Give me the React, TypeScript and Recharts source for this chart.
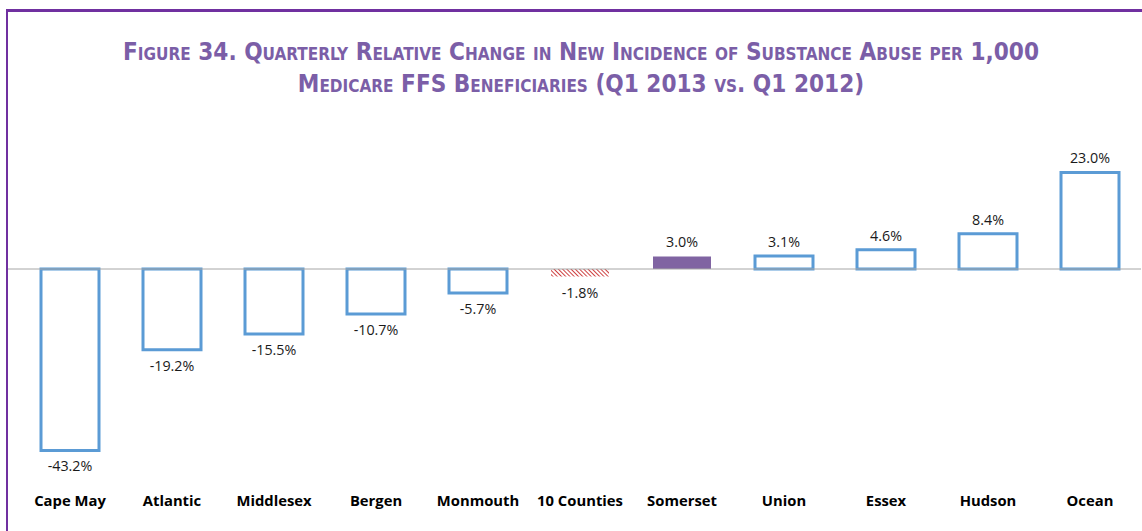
import React from 'react';
import { BarChart, Bar, XAxis, YAxis, ReferenceLine, Cell, LabelList } from 'recharts';

const counties = ['Cape May', 'Atlantic', 'Middlesex', 'Bergen', 'Monmouth', '10 Counties', 'Somerset', 'Union', 'Essex', 'Hudson', 'Ocean'];
const changes = [-43.2, -19.2, -15.5, -10.7, -5.7, -1.8, 3.0, 3.1, 4.6, 8.4, 23.0];
const barKinds = ['outline', 'outline', 'outline', 'outline', 'outline', 'hatch', 'solid', 'outline', 'outline', 'outline', 'outline'];

const data = counties.map((name, i) => ({ name, value: changes[i], kind: barKinds[i] }));

const BLUE = '#5b9bd5';
const PURPLE = '#8064a2';

const ValueLabel = (props: any) => {
  const { x, y, width, height, value } = props;
  const top = Math.min(y, y + height);
  const bottom = Math.max(y, y + height);
  const ty = value < 0 ? bottom + 21 : top - 9;
  return (
    <text x={x + width / 2} y={ty} textAnchor="middle" fontFamily="'Open Sans', sans-serif" fontSize={14.3} fill="#1a1a1a">
      {value.toFixed(1)}%
    </text>
  );
};

const Title = () => {
  const style: React.CSSProperties = {
    fontFamily: "'DejaVu Sans Condensed', 'Open Sans', sans-serif",
    fontWeight: 'bold',
    fontVariant: 'small-caps',
    fontSize: 24.1,
    color: '#7b5ea7',
    textAlign: 'center',
    lineHeight: '32px',
  };
  return (
    <div style={{ position: 'absolute', left: 0, top: 36, width: 1162, ...style }}>
      <div>Figure 34. Quarterly Relative Change in New Incidence of Substance Abuse per 1,000</div>
      <div>Medicare FFS Beneficiaries (Q1 2013 vs. Q1 2012)</div>
    </div>
  );
};

export default function App() {
  return (
    <div style={{ position: 'absolute', left: 0, top: 0, width: 1142, height: 531, overflow: 'hidden', background: '#fff' }}>
      <div style={{ position: 'absolute', left: 6, top: 9, width: 1200, height: 600, borderTop: '3px solid #7030a0', borderLeft: '2px solid #7030a0' }} />
      <Title />
      <div style={{ position: 'absolute', left: 0, top: 0 }}>
        <BarChart width={1142} height={531} data={data} margin={{ top: 164, right: 1, bottom: 13, left: 8 }} barSize={58}>
          <defs>
            <pattern id="hatch" width="3" height="3" patternUnits="userSpaceOnUse" patternTransform="rotate(-45)">
              <rect width="3" height="3" fill="#ffffff" />
              <line x1="0" y1="0" x2="0" y2="3" stroke="#c00000" strokeWidth="1.5" />
            </pattern>
          </defs>
          <XAxis
            dataKey="name"
            axisLine={false}
            tickLine={false}
            height={60}
            tickMargin={31}
            interval={0}
            padding={{ left: 11, right: 0 }}
            tick={{ fontFamily: "'Open Sans', sans-serif", fontWeight: 'bold', fontSize: 14.8, fill: '#000' }}
          />
          <YAxis hide domain={[-45, 25]} allowDataOverflow />
          <ReferenceLine y={0} stroke="#a6a6a6" strokeWidth={1} />
          <Bar dataKey="value" isAnimationActive={false}>
            {data.map((d, i) => (
              <Cell
                key={i}
                fill={d.kind === 'solid' ? PURPLE : d.kind === 'hatch' ? 'url(#hatch)' : '#ffffff'}
                stroke={d.kind === 'outline' ? BLUE : 'none'}
                strokeWidth={d.kind === 'outline' ? 3 : 0}
              />
            ))}
            <LabelList dataKey="value" content={ValueLabel} />
          </Bar>
        </BarChart>
      </div>
    </div>
  );
}
